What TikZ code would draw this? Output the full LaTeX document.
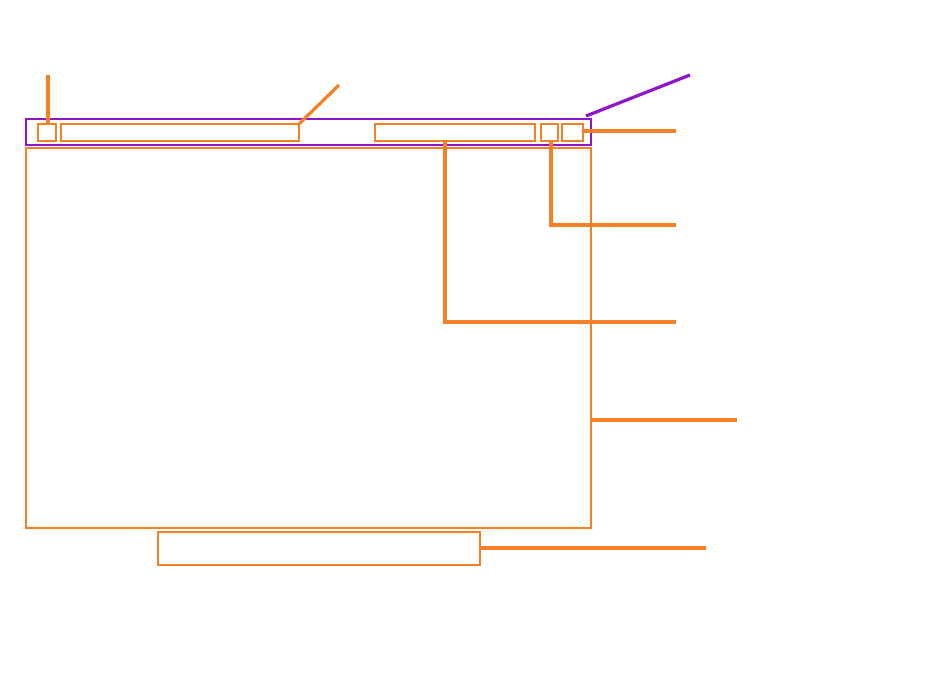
\documentclass[tikz,border=0pt]{standalone}
\usetikzlibrary{positioning,calc}
\definecolor{winorange}{RGB}{245,128,37}
\definecolor{winpurple}{RGB}{145,20,205}
\tikzset{
  box/.style={draw=winorange, line width=1.6pt, inner sep=0pt, outer sep=0pt, anchor=north west},
  barbox/.style={draw=winpurple, line width=2pt, inner sep=0pt, outer sep=0pt, anchor=north west},
  lead/.style={draw=winorange, line width=3.2pt},
  leadp/.style={draw=winpurple, line width=3.2pt}
}
\begin{document}
\begin{tikzpicture}[x=1pt,y=1pt,yscale=-1,xscale=1]
\useasboundingbox (0,0) rectangle (944,681);

%Title bar
\node [barbox, minimum width=565pt, minimum height=26pt] (bar) at (26,119) {};
%Bar items
\node [box, minimum width=18pt, minimum height=17pt] (icon) at (38,124) {};
\node [box, minimum width=238pt, minimum height=17pt] (title) at (61,124) {};
\node [box, minimum width=160pt, minimum height=17pt] (search) at (375,124) {};
\node [box, minimum width=17pt, minimum height=17pt] (btnA) at (541,124) {};
\node [box, minimum width=21pt, minimum height=17pt] (btnB) at (562,124) {};
%Content area
\node [box, minimum width=565pt, minimum height=380pt] (main) at (26,148) {};
%Status box
\node [box, minimum width=322pt, minimum height=33pt] (status) at (158,532) {};

%Leader ends
\coordinate (lIcon) at (48,75);
\coordinate (lTitle) at (339,85);
\coordinate (lBarA) at (586,116);
\coordinate (lBar) at (690,75);
\coordinate (lBtnB) at (676,131);
\coordinate (lBtnA) at (676,225);
\coordinate (lSearch) at (676,322);
\coordinate (lMain) at (737,420);
\coordinate (lStatus) at (706,548);

%Leaders
\draw [lead] ([xshift=1pt]icon.north) -- ([xshift=1pt]icon.north |- lIcon);
\draw [lead] (title.north east) -- (lTitle);
\draw [leadp] (lBarA) -- (lBar);
\draw [lead] (btnB.east |- lBtnB) -- (lBtnB);
\draw [lead] ([xshift=1.5pt]btnA.south) |- (lBtnA);
\draw [lead] ([xshift=-10pt]search.south) |- (lSearch);
\draw [lead] (main.east |- lMain) -- (lMain);
\draw [lead] (status.east |- lStatus) -- (lStatus);

\end{tikzpicture}
\end{document}
